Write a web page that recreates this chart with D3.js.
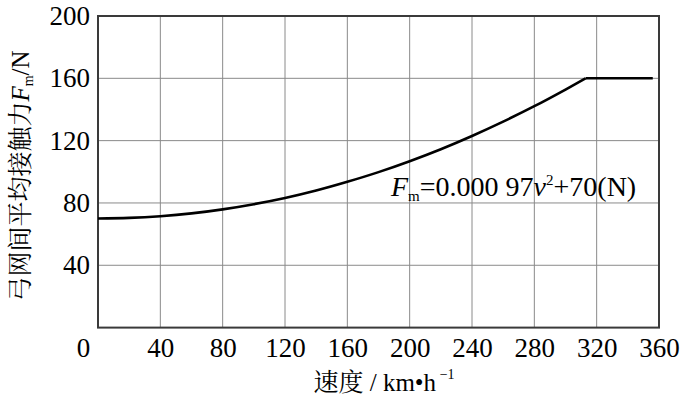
<!DOCTYPE html>
<html><head><meta charset="utf-8">
<script src="https://cdn.jsdelivr.net/npm/d3@7"></script>
<style>
body{margin:0;background:#fff;}
</style></head>
<body><svg id="c" width="687" height="401"></svg>
<script>
const speeds = [0,20,40,60,80,100,120,140,160,180,200,220,240,260,280,300,313,356];
const forces = [70,70.4,71.5,73.3,75.9,79.2,83.2,88,93.6,99.8,106.8,114.5,123,132.2,142.1,152.8,160,160];
const xTicks = [0,40,80,120,160,200,240,280,320,360];
const yTicks = [40,80,120,160,200];

const SERIF = '"Liberation Serif"';
const CJK = '"Noto Serif CJK SC"';
const svg = d3.select("#c");
const L=98,R=659,T=16,B=327.6;
const x = d3.scaleLinear().domain([0,360]).range([L,R]);
const y = d3.scaleLinear().domain([0,200]).range([B,T]);

// grid
svg.append("g").selectAll("line").data(xTicks.filter(d=>d>0&&d<360)).join("line")
  .attr("x1",d=>x(d)).attr("x2",d=>x(d)).attr("y1",T).attr("y2",B)
  .attr("stroke","#8a8a8a").attr("stroke-width",1);
svg.append("g").selectAll("line").data(yTicks.filter(d=>d<200)).join("line")
  .attr("y1",d=>y(d)).attr("y2",d=>y(d)).attr("x1",L).attr("x2",R)
  .attr("stroke","#8a8a8a").attr("stroke-width",1);

// frame
svg.append("rect").attr("x",L).attr("y",T).attr("width",R-L).attr("height",B-T)
  .attr("fill","none").attr("stroke","#3a3a3a").attr("stroke-width",2);

// axes labels via d3 axes
const xa = svg.append("g").attr("transform",`translate(0,${B})`)
  .call(d3.axisBottom(x).tickValues(xTicks).tickSize(0).tickPadding(8).tickFormat(d3.format("d")));
xa.attr("font-family",SERIF).attr("font-size",27);
xa.select(".domain").remove();
xa.selectAll("text").style("font-family",SERIF).style("font-size","27px").attr("fill","#000")
  .attr("dy","0.78em")
  .attr("dx",d=>d===0?-15:0);
const ya = svg.append("g").attr("transform",`translate(${L},0)`)
  .call(d3.axisLeft(y).tickValues(yTicks).tickSize(0).tickPadding(8).tickFormat(d3.format("d")));
ya.attr("font-family",SERIF).attr("font-size",27);
ya.select(".domain").remove();
ya.selectAll("text").style("font-family",SERIF).style("font-size","27px").attr("fill","#000");

// curve
const pts = speeds.map((v,i)=>[v,forces[i]]);
svg.append("path").datum(pts.slice(0,17))
  .attr("d",d3.line().x(d=>x(d[0])).y(d=>y(d[1])).curve(d3.curveMonotoneX))
  .attr("fill","none").attr("stroke","#000").attr("stroke-width",2.6);
svg.append("path").datum(pts.slice(16))
  .attr("d",d3.line().x(d=>x(d[0])).y(d=>y(d[1])))
  .attr("fill","none").attr("stroke","#000").attr("stroke-width",2.6);

// formula
const f = svg.append("text").attr("x",391).attr("y",196).style("font-family",SERIF).style("font-size","28px").attr("fill","#000");
f.append("tspan").style("font-style","italic").text("F");
f.append("tspan").style("font-size","15px").attr("dy",5).text("m");
f.append("tspan").attr("dy",-5).text("=0.000 97");
f.append("tspan").style("font-style","italic").text("v");
f.append("tspan").style("font-size","15px").attr("dy",-11).text("2");
f.append("tspan").attr("dy",11).text("+70(N)");

// y title
const yt = svg.append("text").attr("transform","translate(29,176) rotate(-90)")
  .attr("text-anchor","middle").style("font-family",SERIF).style("font-size","25px").attr("fill","#000");
yt.append("tspan").style("font-family",CJK).text("弓网间平均接触力");
yt.append("tspan").style("font-style","italic").text("F");
yt.append("tspan").style("font-size","14px").attr("dy",4).text("m");
yt.append("tspan").attr("dy",-4).text("/N");

// x title
const xt = svg.append("text").attr("x",384).attr("y",391).attr("text-anchor","middle")
  .style("font-family",SERIF).style("font-size","25px").attr("fill","#000");
xt.append("tspan").style("font-family",CJK).text("速度");
xt.append("tspan").text(" / km•h");
xt.append("tspan").style("font-size","14px").attr("dy",-12).text(" −1");
</script></body></html>
